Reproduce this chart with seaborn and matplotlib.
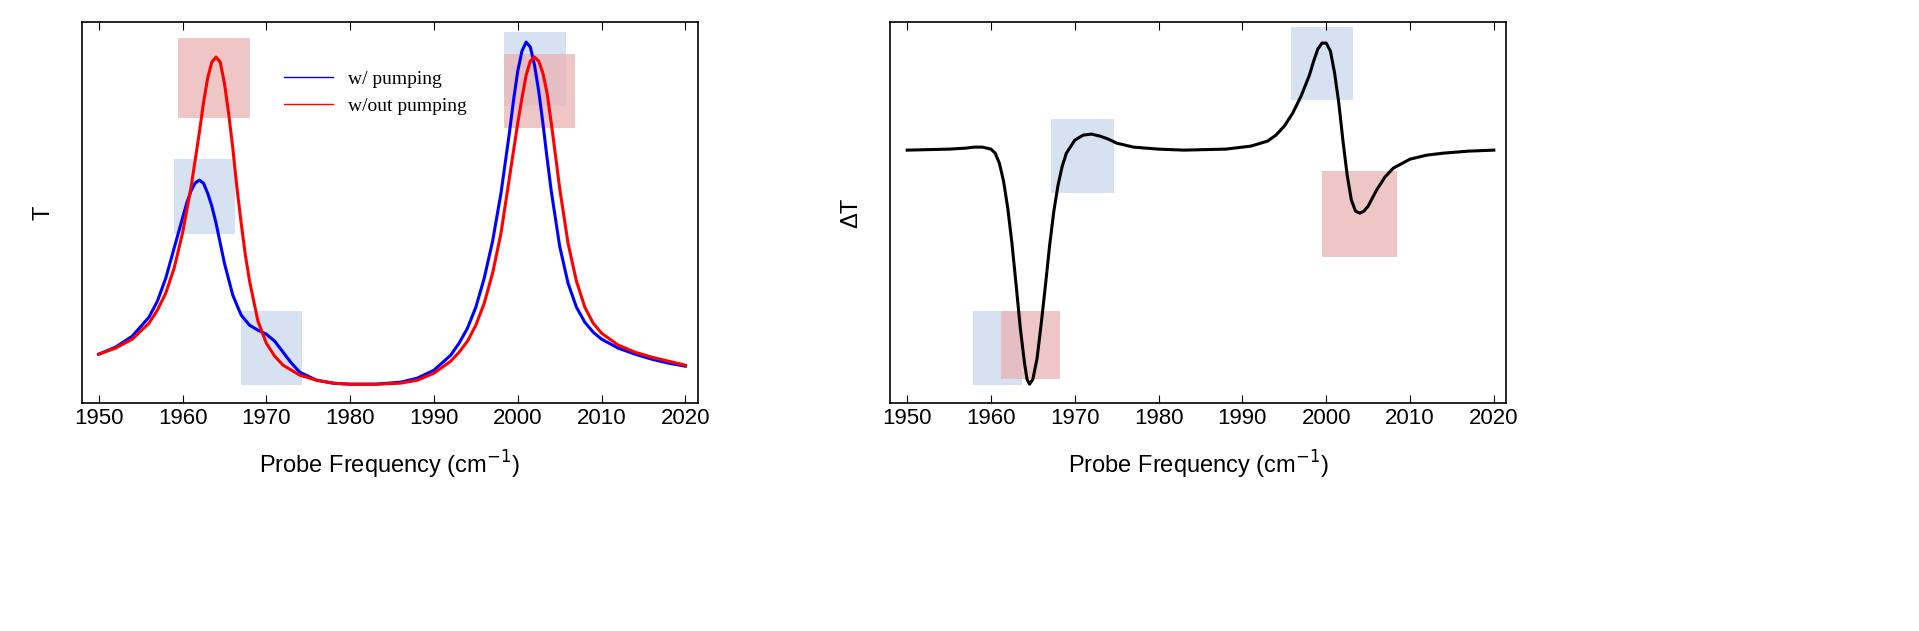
import matplotlib
matplotlib.use("Agg")
import matplotlib.pyplot as plt
from matplotlib.patches import Rectangle
import seaborn as sns

x_red = [1950,1952,1954,1956,1957,1958,1959,1960,1961,1962,1962.5,1963,1963.5,1964,1964.5,1965,1965.5,1966,1966.5,1967,1967.5,1968,1969,1970,1971,1972,1974,1976,1978,1980,1983,1986,1988,1990,1992,1993,1994,1995,1996,1997,1998,1999,2000,2000.5,2001,2001.5,2002,2002.5,2003,2003.5,2004,2004.5,2005,2006,2007,2008,2009,2010,2012,2014,2016,2018,2020]
t_red = [49,55,64,80,93,110,135,170,215,270,300,325,341,346,341,320,290,255,215,180,148,122,82,60,47,38,28,23,20,19,19,20,23,30,42,51,62,78,100,130,170,225,280,305,328,342,346,342,330,310,280,248,215,160,122,96,80,70,58,51,46,42,38]
x_blue = [1950,1952,1954,1956,1957,1958,1959,1960,1960.5,1961,1961.5,1962,1962.5,1963,1963.5,1964,1965,1966,1967,1968,1969,1970,1971,1972,1973,1974,1976,1978,1980,1983,1986,1988,1990,1992,1993,1994,1995,1996,1997,1998,1999,1999.5,2000,2000.5,2001,2001.5,2002,2002.5,2003,2003.5,2004,2005,2006,2007,2008,2009,2010,2012,2014,2016,2018,2020]
t_blue = [49,56,67,86,102,125,155,185,200,212,220,223,220,210,197,180,140,108,88,78,73,69,62,51,40,31,23,20,19,19,21,25,33,48,60,75,96,125,162,210,270,303,332,352,361,356,338,312,280,245,212,157,120,96,81,71,64,55,49,44,40,37]
x_diff = [1950,1955,1957,1958,1959,1960,1960.5,1961,1961.5,1962,1962.5,1963,1963.5,1964,1964.3,1964.6,1965,1965.5,1966,1966.5,1967,1967.5,1968,1968.5,1969,1970,1971,1972,1973,1974,1975,1977,1980,1983,1988,1991,1993,1994,1995,1996,1997,1998,1998.5,1999,1999.5,2000,2000.5,2001,2001.5,2002,2002.5,2003,2003.5,2004,2004.5,2005,2005.5,2006,2007,2008,2010,2012,2014,2017,2020]
dt = [253,254,255,256,256,254,250,240,222,195,160,118,75,40,24,19,24,45,80,118,158,192,218,237,250,263,268,269,267,264,260,256,254,253,254,257,262,268,277,290,307,328,342,354,360,360,352,330,300,262,228,203,192,190,192,197,205,213,226,235,244,248,250,252,253]
legend_labels = ["w/ pumping", "w/out pumping"]
xticks = [1950,1960,1970,1980,1990,2000,2010,2020]

BLUE_BOX = "#c9d7ee"; RED_BOX = "#eab3b3"
left_boxes = [(1959.5,1968,285,365,RED_BOX),(1959,1966.3,169,244,BLUE_BOX),(1967,1974.3,18,92,BLUE_BOX),
              (1998.3,2005.8,297,371,BLUE_BOX),(1998.3,2006.8,275,349,RED_BOX)]
right_boxes = [(1957.8,1963.7,18,92,BLUE_BOX),(1961.2,1968.2,24,92,RED_BOX),(1967.2,1974.7,210,284,BLUE_BOX),
               (1995.8,2003.2,303,376,BLUE_BOX),(1999.5,2008.4,146,232,RED_BOX)]

plt.rcParams["font.family"] = "Liberation Sans"
fig = plt.figure(figsize=(19.19, 6.31), dpi=100)
ax1 = fig.add_axes([0.0427, 0.361, 0.321, 0.604])
ax2 = fig.add_axes([0.464, 0.361, 0.321, 0.604])

def boxes(ax, bs):
    for x0, x1, y0, y1, c in bs:
        ax.add_patch(Rectangle((x0, y0), x1-x0, y1-y0, facecolor=c, alpha=0.75, edgecolor="none", zorder=0))

boxes(ax1, left_boxes)
sns.lineplot(x=x_blue, y=t_blue, ax=ax1, color="blue", lw=2.2, label=legend_labels[0], sort=False)
sns.lineplot(x=x_red, y=t_red, ax=ax1, color="red", lw=2.2, label=legend_labels[1], sort=False)
boxes(ax2, right_boxes)
sns.lineplot(x=x_diff, y=dt, ax=ax2, color="black", lw=2.2, sort=False)

leg = ax1.legend(loc="upper left", bbox_to_anchor=(0.3, 0.92), frameon=False,
                 prop={"family": "Liberation Serif", "size": 14}, handlelength=2.5)
for l in leg.get_lines():
    l.set_linewidth(1)

for ax, yl in [(ax1, "T"), (ax2, "ΔT")]:
    ax.set_xlim(1948, 2021.5)
    ax.set_ylim(0, 381)
    ax.set_xticks(xticks)
    ax.set_yticks([])
    ax.tick_params(axis="x", direction="in", top=True, labelsize=16, length=6)
    ax.set_xlabel("Probe Frequency (cm$^{-1}$)", fontsize=17, labelpad=14)
    ax.set_ylabel(yl, fontsize=17, labelpad=20)
    for s in ax.spines.values():
        s.set_linewidth(1.2)

fig.savefig("out.png", dpi=100)
